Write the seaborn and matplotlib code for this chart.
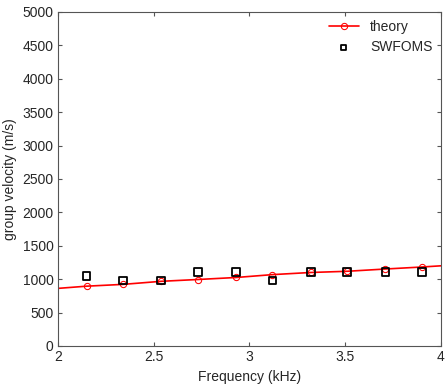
import seaborn as sns
import matplotlib.pyplot as plt
import pandas as pd

# frequencies (kHz) where points were sampled
freq = [2.15, 2.34, 2.54, 2.73, 2.93, 3.12, 3.32, 3.51, 3.71, 3.90]
theory = [895, 922, 968, 995, 1025, 1068, 1100, 1118, 1152, 1182]
swfoms = [1048, 978, 978, 1110, 1110, 978, 1110, 1110, 1110, 1110]

# theory line spans the full axis
line_freq = [2.0] + freq + [4.0]
line_vel = [862] + theory + [1200]

sns.set_style('ticks')
plt.rcParams['font.family'] = ['Liberation Sans', 'DejaVu Sans']

fig = plt.figure(figsize=(4.45, 3.84), dpi=100)
ax = fig.add_axes([0.130, 0.099, 0.861, 0.870])

df_line = pd.DataFrame({'f': line_freq, 'v': line_vel})
df_sw = pd.DataFrame({'f': freq, 'v': swfoms})

sns.lineplot(data=df_line, x='f', y='v', ax=ax, color='#ff0000', lw=1.2,
             marker='o', markersize=4.5, markerfacecolor='none',
             markeredgecolor='#ff0000', markevery=list(range(1, len(freq) + 1)),
             label='theory')
sns.scatterplot(data=df_sw, x='f', y='v', ax=ax, marker='s', s=30,
                facecolor='none', edgecolor='black', linewidth=1.3,
                label='SWFOMS', zorder=3)

ax.set_xlim(2, 4)
ax.set_ylim(0, 5000)
ax.set_xticks([2, 2.5, 3, 3.5, 4])
ax.set_xticklabels(['2', '2.5', '3', '3.5', '4'])
ax.set_yticks(range(0, 5001, 500))
ax.set_xlabel('Frequency (kHz)', fontsize=10)
ax.set_ylabel('group velocity (m/s)', fontsize=10)
ax.tick_params(direction='in', top=True, right=True, labelsize=10, length=3,
               color='#555555', pad=3)
for sp in ax.spines.values():
    sp.set_color('#555555')
    sp.set_linewidth(0.8)

leg = ax.legend(loc='upper right', frameon=False, fontsize=10,
                handlelength=2.2, borderaxespad=0.2, labelspacing=0.4)
leg.legend_handles[1].set_sizes([14])

plt.savefig('out.png', dpi=100)
